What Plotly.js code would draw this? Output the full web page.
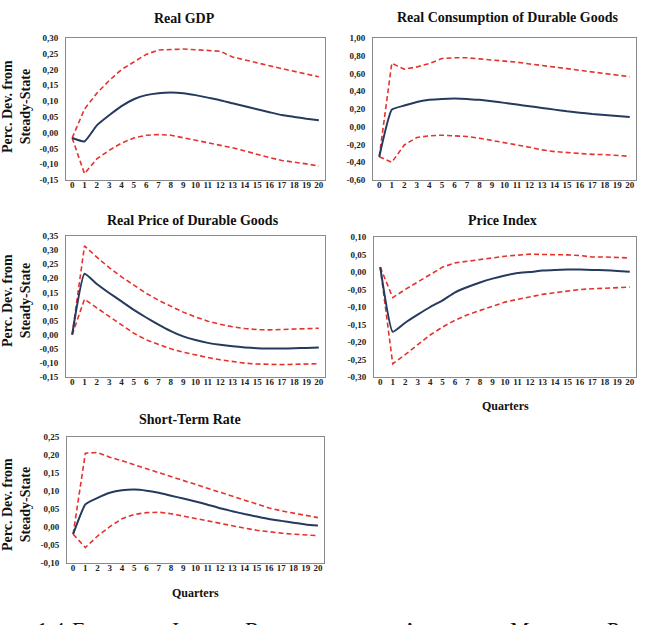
<!DOCTYPE html>
<html>
<head>
<meta charset="utf-8">
<script src="https://cdn.plot.ly/plotly-3.0.1.min.js"></script>
<style>
  html, body { margin: 0; padding: 0; background: #fff; overflow: hidden; }
  #chart { width: 646px; height: 625px; }
</style>
</head>
<body>
<div id="chart"></div>
<script>
// Impulse responses (percentage deviation from steady state), quarters 0..20,
// median response with upper / lower confidence bands.
const quarters = [0,1,2,3,4,5,6,7,8,9,10,11,12,13,14,15,16,17,18,19,20];

const gdpMean  = [-0.017,-0.028,0.023,0.055,0.084,0.106,0.119,0.125,0.127,0.125,0.119,0.111,0.103,0.093,0.084,0.074,0.065,0.056,0.050,0.044,0.039];
const gdpUpper = [-0.017,0.075,0.125,0.165,0.200,0.225,0.248,0.262,0.264,0.265,0.263,0.260,0.258,0.240,0.230,0.222,0.212,0.203,0.195,0.187,0.177];
const gdpLower = [-0.017,-0.130,-0.083,-0.056,-0.033,-0.017,-0.008,-0.006,-0.008,-0.016,-0.022,-0.030,-0.038,-0.048,-0.058,-0.069,-0.079,-0.088,-0.093,-0.099,-0.106];

const durMean  = [-0.337,0.193,0.239,0.280,0.303,0.314,0.318,0.314,0.303,0.288,0.269,0.250,0.231,0.212,0.193,0.174,0.159,0.144,0.133,0.121,0.110];
const durUpper = [-0.337,0.716,0.648,0.674,0.712,0.769,0.777,0.777,0.765,0.754,0.739,0.727,0.708,0.693,0.674,0.655,0.636,0.617,0.595,0.580,0.564];
const durLower = [-0.337,-0.400,-0.205,-0.121,-0.102,-0.095,-0.102,-0.110,-0.129,-0.152,-0.178,-0.205,-0.231,-0.261,-0.280,-0.292,-0.307,-0.311,-0.314,-0.326,-0.333];

const priceDurMean  = [0.000,0.216,0.180,0.148,0.118,0.088,0.061,0.036,0.013,-0.006,-0.019,-0.029,-0.036,-0.041,-0.045,-0.048,-0.049,-0.049,-0.048,-0.047,-0.045];
const priceDurUpper = [0.000,0.315,0.275,0.238,0.205,0.175,0.147,0.122,0.100,0.080,0.063,0.048,0.037,0.028,0.022,0.018,0.017,0.018,0.019,0.021,0.023];
const priceDurLower = [0.000,0.126,0.095,0.065,0.035,0.005,-0.018,-0.035,-0.050,-0.062,-0.072,-0.081,-0.089,-0.096,-0.101,-0.104,-0.106,-0.106,-0.105,-0.104,-0.103];

const cpiMean  = [0.014,-0.171,-0.145,-0.122,-0.100,-0.081,-0.058,-0.043,-0.030,-0.019,-0.010,-0.003,0.000,0.004,0.006,0.007,0.007,0.006,0.005,0.003,0.001];
const cpiUpper = [0.014,-0.073,-0.050,-0.029,-0.007,0.014,0.026,0.031,0.036,0.041,0.045,0.048,0.051,0.050,0.050,0.049,0.047,0.043,0.043,0.042,0.040];
const cpiLower = [0.014,-0.262,-0.236,-0.208,-0.180,-0.157,-0.138,-0.122,-0.110,-0.098,-0.086,-0.078,-0.070,-0.064,-0.059,-0.054,-0.050,-0.048,-0.046,-0.045,-0.043];

const rateMean  = [-0.020,0.063,0.081,0.095,0.102,0.104,0.101,0.095,0.087,0.079,0.071,0.062,0.052,0.044,0.036,0.029,0.022,0.017,0.012,0.007,0.004];
const rateUpper = [-0.020,0.205,0.207,0.194,0.184,0.172,0.162,0.151,0.140,0.129,0.117,0.106,0.095,0.084,0.073,0.063,0.053,0.045,0.038,0.031,0.026];
const rateLower = [-0.020,-0.057,-0.025,0.001,0.023,0.035,0.040,0.041,0.037,0.030,0.023,0.016,0.009,0.003,-0.003,-0.009,-0.014,-0.017,-0.020,-0.022,-0.024];

// Y tick values per panel
const gdpTicks      = [-0.15,-0.10,-0.05,0.00,0.05,0.10,0.15,0.20,0.25,0.30];
const durTicks      = [-0.60,-0.40,-0.20,0.00,0.20,0.40,0.60,0.80,1.00];
const priceDurTicks = [-0.15,-0.10,-0.05,0.00,0.05,0.10,0.15,0.20,0.25,0.30,0.35];
const cpiTicks      = [-0.30,-0.25,-0.20,-0.15,-0.10,-0.05,0.00,0.05,0.10];
const rateTicks     = [-0.10,-0.05,0.00,0.05,0.10,0.15,0.20,0.25];

const panelTitles = ['Real GDP','Real Consumption of Durable Goods','Real Price of Durable Goods','Price Index','Short-Term Rate'];
const yAxisLabel = 'Perc. Dev. from<br>Steady-State';
const xAxisLabel = 'Quarters';
const captionWords = [
  ['1.4:', ''],
  ['E', 'STIMATED'],
  ['I', 'MPULSE'],
  ['R', 'ESPONSES TO AN'],
  ['A', 'NTICIPATED'],
  ['M', 'ONETARY'],
  ['P', 'OLICY']
];

// ---- layout helpers (pixel geometry of the page) ----
const W = 646, H = 625;
const fx = v => v / W;
const fy = v => 1 - v / H;
const FONT = 'Liberation Serif, DejaVu Serif, serif';
const RED = '#e5322d';
const NAVY = '#253a5e';

const panels = [
  { mean: gdpMean, upper: gdpUpper, lower: gdpLower, ticks: gdpTicks, box: [66, 325, 38, 180], zc: '#555555', title: [185, 18], ylab: 107, xlab: null },
  { mean: durMean, upper: durUpper, lower: durLower, ticks: durTicks, box: [373, 636, 38, 180], zc: '#333333', title: [507, 17], ylab: null, xlab: null },
  { mean: priceDurMean, upper: priceDurUpper, lower: priceDurLower, ticks: priceDurTicks, box: [66, 325, 236, 377], zc: '#b0b0b0', title: [193, 220], ylab: 301, xlab: null },
  { mean: cpiMean, upper: cpiUpper, lower: cpiLower, ticks: cpiTicks, box: [374, 636, 237, 377], zc: '#b0b0b0', title: [502, 220], ylab: null, xlab: 406 },
  { mean: rateMean, upper: rateUpper, lower: rateLower, ticks: rateTicks, box: [67, 324, 437, 563], zc: '#b0b0b0', title: [190, 419], ylab: 505, xlab: 593 }
];

const fmt = v => v.toFixed(2).replace('.', ',');
const halfTicks = quarters.slice(0, -1).map(q => q + 0.5);

const data = [];
const layout = {
  width: W, height: H,
  margin: { l: 0, r: 0, t: 0, b: 0 },
  paper_bgcolor: '#ffffff',
  plot_bgcolor: '#ffffff',
  showlegend: false,
  font: { family: FONT, color: '#222' },
  annotations: [],
  shapes: []
};

panels.forEach((p, i) => {
  const n = i + 1;
  const sfx = n === 1 ? '' : String(n);
  const xa = 'x' + sfx, ya = 'y' + sfx;
  const [x0, x1, y0, y1] = p.box;
  const xdom = [fx(x0), fx(x1)];
  const ydom = [fy(y1), fy(y0)];
  const ymin = p.ticks[0], ymax = p.ticks[p.ticks.length - 1];

  data.push({ x: quarters, y: p.upper, xaxis: xa, yaxis: ya, type: 'scatter', mode: 'lines',
              line: { color: RED, width: 1.6, dash: '5px,3px' }, hoverinfo: 'skip' });
  data.push({ x: quarters, y: p.lower, xaxis: xa, yaxis: ya, type: 'scatter', mode: 'lines',
              line: { color: RED, width: 1.6, dash: '5px,3px' }, hoverinfo: 'skip' });
  data.push({ x: quarters, y: p.mean, xaxis: xa, yaxis: ya, type: 'scatter', mode: 'lines',
              line: { color: NAVY, width: 2, shape: 'spline', smoothing: 0.4 }, hoverinfo: 'skip' });

  layout['xaxis' + sfx] = {
    domain: xdom, anchor: ya, range: [-0.5, 20.5],
    tickvals: quarters, ticktext: quarters.map(String),
    tickfont: { size: 9, family: FONT, color: '#222', weight: 'bold' },
    ticks: '', ticklabelstandoff: -4, showgrid: false, zeroline: false,
    showline: true, mirror: true, linecolor: '#8a8a8a', linewidth: 1,
    fixedrange: true
  };
  layout['yaxis' + sfx] = {
    domain: ydom, anchor: xa, range: [ymin, ymax],
    tickvals: p.ticks, ticktext: p.ticks.map(fmt),
    tickfont: { size: 9, family: FONT, color: '#222', weight: 'bold' },
    ticks: '', ticklabelstandoff: 5, showgrid: false, zeroline: false,
    showline: true, mirror: true, linecolor: '#8a8a8a', linewidth: 1,
    fixedrange: true
  };

  // horizontal axis line through zero with small tick marks between quarters
  const zpos = ydom[0] + (0 - ymin) / (ymax - ymin) * (ydom[1] - ydom[0]);
  layout['xaxis' + (n + 5)] = {
    domain: xdom, overlaying: xa, anchor: 'free', position: zpos,
    range: [-0.5, 20.5], tickvals: halfTicks, ticks: 'outside', ticklen: 3,
    tickcolor: p.zc, tickwidth: 1, showticklabels: false,
    showline: true, linecolor: p.zc, linewidth: 1,
    showgrid: false, zeroline: false, fixedrange: true
  };

  layout.annotations.push({
    text: panelTitles[i], xref: 'paper', yref: 'paper',
    x: fx(p.title[0]), y: fy(p.title[1]), xanchor: 'center', yanchor: 'middle',
    showarrow: false, font: { size: 14, family: FONT, color: '#111', weight: 'bold' }
  });
  if (p.ylab !== null) {
    layout.annotations.push({
      text: yAxisLabel, xref: 'paper', yref: 'paper',
      x: fx(16), y: fy(p.ylab), xanchor: 'center', yanchor: 'middle',
      textangle: -90, showarrow: false,
      font: { size: 14, family: FONT, color: '#111', weight: 'bold' }
    });
  }
  if (p.xlab !== null) {
    layout.annotations.push({
      text: xAxisLabel, xref: 'paper', yref: 'paper',
      x: fx((x0 + x1) / 2), y: fy(p.xlab), xanchor: 'center', yanchor: 'middle',
      showarrow: false, font: { size: 12, family: FONT, color: '#111', weight: 'bold' }
    });
  }
});

// figure caption below the panels (small capitals)
const captionX = [35, 70, 170, 243, 400, 508, 605];
captionWords.forEach((w, i) => {
  layout.annotations.push({
    text: w[0] + (w[1] ? '<span style="font-size:13px">' + w[1] + '</span>' : ''),
    xref: 'paper', yref: 'paper',
    x: fx(captionX[i]), y: fy(615), xanchor: 'left', yanchor: 'top',
    showarrow: false, font: { size: 22, family: FONT, color: '#111' }
  });
});

Plotly.newPlot('chart', data, layout, { staticPlot: true, displayModeBar: false });
</script>
</body>
</html>
